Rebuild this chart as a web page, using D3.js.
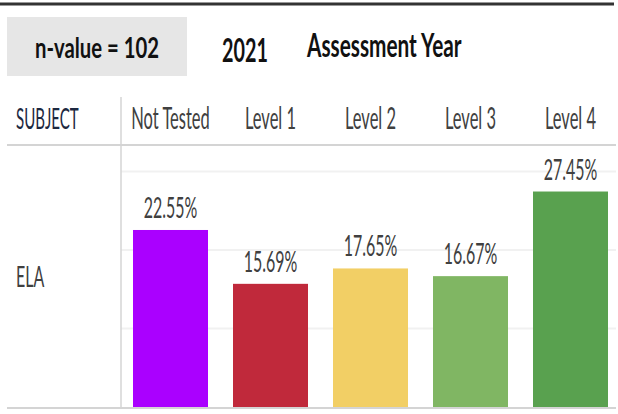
<!DOCTYPE html>
<html>
<head>
<meta charset="utf-8">
<script src="https://cdn.jsdelivr.net/npm/d3@7"></script>
<style>
  body { margin: 0; background: #fff; }
  text { font-family: Lato, "Open Sans", sans-serif; }
</style>
</head>
<body>
<svg id="chart" width="618" height="414"></svg>
<script>
const levels = ["Not Tested", "Level 1", "Level 2", "Level 3", "Level 4"];
const elaValues = [22.55, 15.69, 17.65, 16.67, 27.45];
const levelColors = ["#aa00ff", "#c0293b", "#f2cf65", "#80b663", "#59a14f"];
const gridTicks = [10, 20, 30];
const subject = "ELA";
const nValue = 102;
const year = "2021";

const squeeze = 0.55; // the source text is tall and narrow

const svg = d3.select("#chart");

// places a horizontally squeezed text
function label(x, y, str, size, opts = {}) {
    return svg.append("text")
        .attr("transform", `translate(${x},${y}) scale(${opts.sx || squeeze},1)`)
        .attr("text-anchor", opts.anchor || "start")
        .attr("font-size", size)
        .attr("font-weight", opts.bold ? "bold" : "normal")
        .attr("fill", opts.fill || "#404040")
        .text(str);
}

// header strip
svg.append("line")
    .attr("x1", 0).attr("x2", 614).attr("y1", 4).attr("y2", 4)
    .attr("stroke", "#333").attr("stroke-width", 3);

svg.append("rect")
    .attr("x", 7).attr("y", 17).attr("width", 180).attr("height", 59)
    .attr("fill", "#e6e6e6");

label(97, 58, `n-value = ${nValue}`, 29, { bold: true, anchor: "middle", fill: "#111", sx: 0.7 });
label(245, 62, year, 33, { bold: true, anchor: "middle", fill: "#111", sx: 0.6 });
label(307, 57, "Assessment Year", 33, { bold: true, fill: "#111", sx: 0.63 });

// table lines
const plotLeft = 121, plotRight = 616, plotBottom = 407;

const x = d3.scaleBand()
    .domain(levels)
    .range([plotLeft - 0.5, plotLeft + 499.5])
    .paddingInner(0.25)
    .paddingOuter(0.125);

const y = d3.scaleLinear()
    .domain([0, 30])
    .range([plotBottom, 171.5]);

svg.selectAll("line.grid")
    .data(gridTicks)
    .join("line")
    .attr("class", "grid")
    .attr("x1", plotLeft).attr("x2", plotRight)
    .attr("y1", d => y(d)).attr("y2", d => y(d))
    .attr("stroke", "#f1f1f1").attr("stroke-width", 2);

svg.append("line")
    .attr("x1", 7).attr("x2", plotRight).attr("y1", 145).attr("y2", 145)
    .attr("stroke", "#d4d4d4").attr("stroke-width", 2);

svg.append("line")
    .attr("x1", plotLeft).attr("x2", plotLeft).attr("y1", 97).attr("y2", 408)
    .attr("stroke", "#d4d4d4").attr("stroke-width", 1.5);

svg.append("line")
    .attr("x1", 7).attr("x2", plotRight).attr("y1", plotBottom + 1).attr("y2", plotBottom + 1)
    .attr("stroke", "#d4d4d4").attr("stroke-width", 2);

// column headers
label(16, 129, "SUBJECT", 29, { fill: "#1c2840", sx: 0.52 });
levels.forEach(l => label(x(l) + x.bandwidth() / 2, 129, l, 30, { anchor: "middle" }));

label(16, 287, subject, 29);

// bars
svg.selectAll("rect.bar")
    .data(elaValues)
    .join("rect")
    .attr("class", "bar")
    .attr("x", (d, i) => x(levels[i]))
    .attr("y", d => y(d))
    .attr("width", x.bandwidth())
    .attr("height", d => y(0) - y(d))
    .attr("fill", (d, i) => levelColors[i]);

elaValues.forEach((v, i) => {
    label(x(levels[i]) + x.bandwidth() / 2, y(v) - 12, v.toFixed(2) + "%", 29, { anchor: "middle" });
});
</script>
</body>
</html>
